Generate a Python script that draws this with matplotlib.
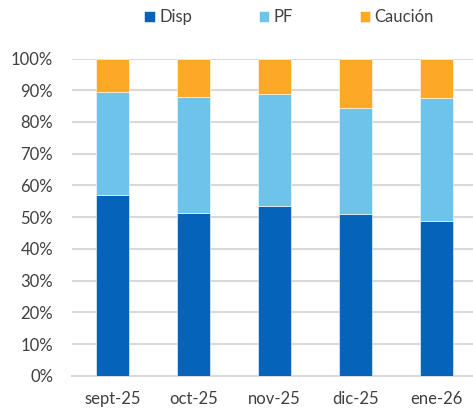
import matplotlib.pyplot as plt
from matplotlib.ticker import PercentFormatter
import numpy as np

CATEGORIES = ["sept-25", "oct-25", "nov-25", "dic-25", "ene-26"]
DISP = [57.1, 51.2, 53.5, 50.9, 48.9]
PF = [32.2, 36.6, 35.3, 33.6, 38.7]
CAUCION = [10.7, 12.2, 11.2, 15.5, 12.4]
SERIES = ["Disp", "PF", "Caución"]

COLORS = ["#0563BA", "#6EC3EA", "#FDA826"]
COLOR_GRID = "#D9D9D9"
COLOR_TEXT = "#404040"

plt.rcParams["font.family"] = ["Lato", "DejaVu Sans"]


def main():
    fig = plt.figure(figsize=(4.73, 4.12), dpi=100, facecolor="white")
    ax = fig.add_axes([0.152, 0.088, 0.856, 0.770])

    x = np.arange(len(CATEGORIES))
    bottom = np.zeros(len(CATEGORIES))
    handles = []
    for name, vals, color in zip(SERIES, [DISP, PF, CAUCION], COLORS):
        b = ax.bar(x, vals, 0.41, bottom=bottom, color=color, label=name,
                   edgecolor="white", linewidth=0.4, zorder=3)
        handles.append(b)
        bottom += np.array(vals)

    ax.set_xlim(-0.5, len(CATEGORIES) - 0.5)
    ax.set_ylim(0, 100)
    ax.set_yticks(np.arange(0, 101, 10))
    ax.yaxis.set_major_formatter(PercentFormatter(decimals=0))
    ax.set_xticks(x)
    ax.set_xticklabels(CATEGORIES)

    ax.grid(True, axis="y", color=COLOR_GRID, linewidth=1.5, zorder=0)
    for spine in ("top", "right", "left"):
        ax.spines[spine].set_visible(False)
    ax.spines["bottom"].set_color(COLOR_GRID)
    ax.spines["bottom"].set_linewidth(1.5)
    ax.tick_params(axis="both", length=0, colors=COLOR_TEXT, labelsize=12)
    ax.tick_params(axis="y", pad=13.5)
    ax.tick_params(axis="x", pad=11)

    fig.legend(handles=handles, loc="center", bbox_to_anchor=(0.611, 0.958),
               ncol=3, frameon=False, fontsize=12, handlelength=0.65,
               handleheight=0.65, handletextpad=0.25, columnspacing=4.0,
               labelcolor=COLOR_TEXT)

    fig.savefig("out.png", dpi=100)


if __name__ == "__main__":
    main()
